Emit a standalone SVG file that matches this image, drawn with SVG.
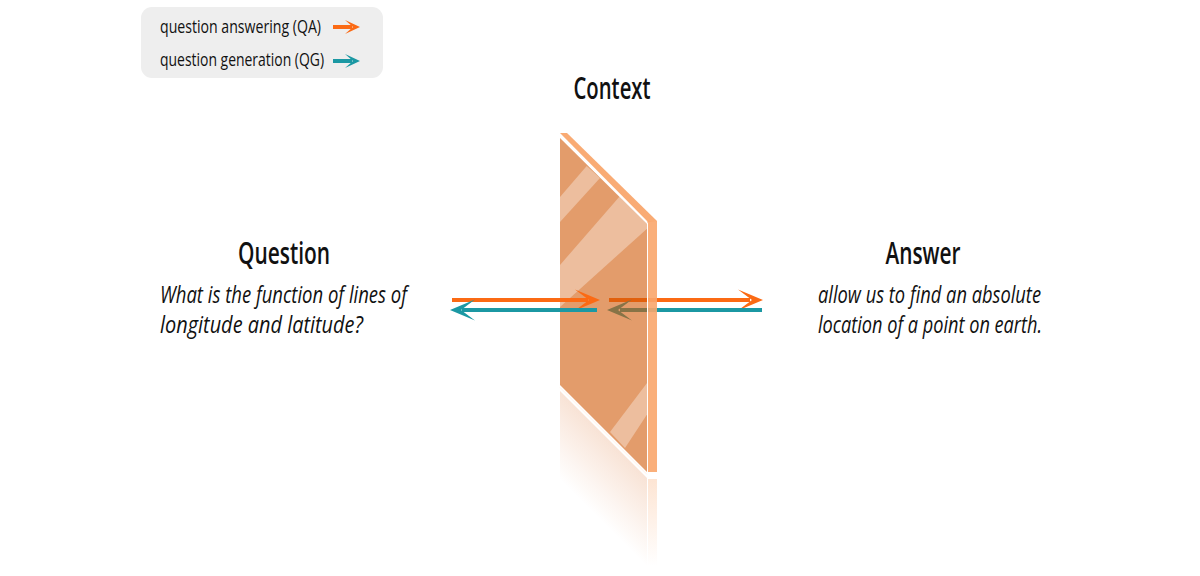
<svg xmlns="http://www.w3.org/2000/svg" xmlns:xlink="http://www.w3.org/1999/xlink" width="1200" height="576" viewBox="0 0 1200 576">
<style>
  .t { font-family: "Open Sans", "Liberation Sans", sans-serif; fill: #111; }
  .title { font-size: 30px; font-weight: 600; text-anchor: middle; }
  .body { font-size: 23px; font-style: italic; }
  .leg { font-size: 18px; }
  .qa { stroke: #fb6a14; stroke-width: 4; fill: none; }
  .qg { stroke: #1b98a3; stroke-width: 4; fill: none; }
  .hqa { fill: #fb6a14; }
  .hqg { fill: #1b98a3; }
</style>
<defs>
  <path id="head" d="M0,0 L-25,-10.5 L-11,0 L-25,10.5 Z"/>
  <path id="headS" d="M0,0 L-15,-7 L-7,0 L-15,7 Z"/>
  <linearGradient id="reflFace" gradientUnits="userSpaceOnUse" x1="0" y1="392" x2="0" y2="480" gradientTransform="translate(0,-560) skewY(45)">
    <stop offset="0" stop-color="#e8a276" stop-opacity="0.3"/>
    <stop offset="1" stop-color="#e8a276" stop-opacity="0"/>
  </linearGradient>
  <linearGradient id="reflSide" gradientUnits="userSpaceOnUse" x1="0" y1="478" x2="0" y2="566">
    <stop offset="0" stop-color="#f9a66b" stop-opacity="0.3"/>
    <stop offset="1" stop-color="#f9a66b" stop-opacity="0"/>
  </linearGradient>
  <clipPath id="faceClip">
    <polygon points="560,138 647,224 647,472 560,385"/>
  </clipPath>
</defs>

<!-- legend -->
<g id="legend">
  <rect x="141" y="7" width="242" height="71" rx="11" fill="#eeeeee"/>
  <text class="t leg" x="160" y="33" textLength="161" lengthAdjust="spacingAndGlyphs">question answering (QA)</text>
  <text class="t leg" x="160" y="66" textLength="164" lengthAdjust="spacingAndGlyphs">question generation (QG)</text>
  <line class="qa" x1="333" y1="27" x2="352" y2="27" stroke-width="3"/>
  <use href="#headS" xlink:href="#headS" class="hqa" transform="translate(360,27)"/>
  <line class="qg" x1="333" y1="61" x2="352" y2="61" stroke-width="3"/>
  <use href="#headS" xlink:href="#headS" class="hqg" transform="translate(360,61)"/>
</g>

<!-- connectors behind the panel -->
<g id="connectors-back">
  <line class="qa" x1="609" y1="300" x2="750" y2="300"/>
  <use href="#head" xlink:href="#head" class="hqa" transform="translate(763,300)"/>
  <line class="qg" x1="762" y1="310" x2="620" y2="310"/>
  <use href="#head" xlink:href="#head" class="hqg" transform="translate(607,310) rotate(180)"/>
</g>

<!-- context panel -->
<g id="context">
  <text class="t title" x="612" y="99" textLength="77" lengthAdjust="spacingAndGlyphs">Context</text>
  <!-- reflection -->
  <polygon points="560,391 647,478 647,600 560,600" fill="url(#reflFace)"/>
  <rect x="648" y="479" width="9" height="90" fill="url(#reflSide)"/>
  <!-- face -->
  <polygon points="560,138 647,224 647,472 560,385" fill="#d05a08" fill-opacity="0.6"/>
  <g clip-path="url(#faceClip)" fill="#ffffff" fill-opacity="0.35">
    <polygon points="586.7,166 600,178 560,222 560,197"/>
    <polygon points="620,196 650,222 650,226 560,307 560,265"/>
    <polygon points="650,379 650,410 625,448 610,432"/>
  </g>
  <!-- top bevel -->
  <polygon points="560,133 567,133 657,221 648,222" fill="#f9ab74"/>
  <line x1="560" y1="136.5" x2="647" y2="223" stroke="#ffffff" stroke-width="1"/>
  <!-- side -->
  <rect x="647.5" y="221" width="9.5" height="251" fill="#f9a66b" fill-opacity="0.9"/>
  <line x1="647.5" y1="223" x2="647.5" y2="472" stroke="#ffffff" stroke-width="1"/>
  <line x1="560" y1="387.5" x2="647" y2="474.5" stroke="#fff3ea" stroke-width="1"/>
</g>

<!-- connectors in front of the panel -->
<g id="connectors-front">
  <line class="qa" x1="452" y1="300" x2="588" y2="300"/>
  <use href="#head" xlink:href="#head" class="hqa" transform="translate(600,300)"/>
  <line class="qg" x1="597" y1="310" x2="462" y2="310"/>
  <use href="#head" xlink:href="#head" class="hqg" transform="translate(450,310) rotate(180)"/>
</g>

<g id="question">
  <text class="t title" x="284" y="264" textLength="92" lengthAdjust="spacingAndGlyphs">Question</text>
  <text class="t body" x="160" y="303" textLength="247" lengthAdjust="spacingAndGlyphs">What is the function of lines of</text>
  <text class="t body" x="160" y="333" textLength="203" lengthAdjust="spacingAndGlyphs">longitude and latitude?</text>
</g>

<g id="answer">
  <text class="t title" x="923" y="264" textLength="75" lengthAdjust="spacingAndGlyphs">Answer</text>
  <text class="t body" x="818" y="303" textLength="223" lengthAdjust="spacingAndGlyphs">allow us to find an absolute</text>
  <text class="t body" x="818" y="333" textLength="224" lengthAdjust="spacingAndGlyphs">location of a point on earth.</text>
</g>
</svg>
